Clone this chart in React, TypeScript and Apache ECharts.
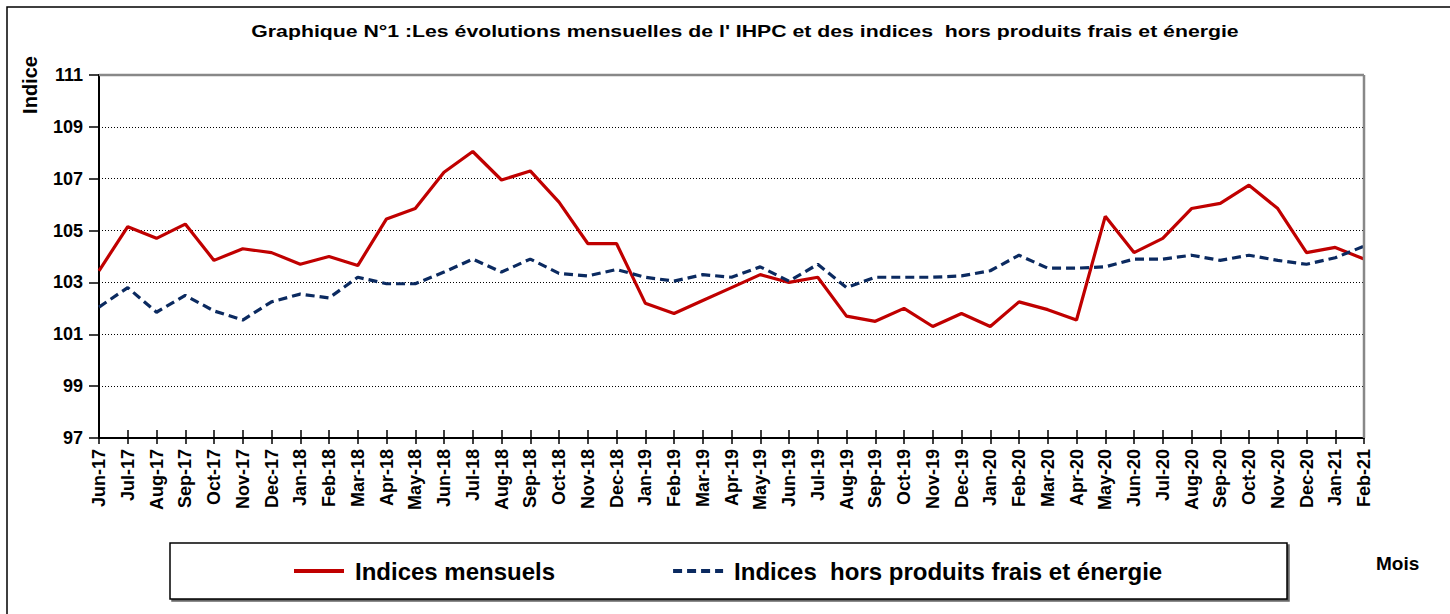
import React, { useEffect, useRef } from "react";
import * as echarts from "echarts";

const months = [
  "Jun-17", "Jul-17", "Aug-17", "Sep-17", "Oct-17", "Nov-17", "Dec-17",
  "Jan-18", "Feb-18", "Mar-18", "Apr-18", "May-18", "Jun-18", "Jul-18", "Aug-18", "Sep-18", "Oct-18", "Nov-18", "Dec-18",
  "Jan-19", "Feb-19", "Mar-19", "Apr-19", "May-19", "Jun-19", "Jul-19", "Aug-19", "Sep-19", "Oct-19", "Nov-19", "Dec-19",
  "Jan-20", "Feb-20", "Mar-20", "Apr-20", "May-20", "Jun-20", "Jul-20", "Aug-20", "Sep-20", "Oct-20", "Nov-20", "Dec-20",
  "Jan-21", "Feb-21",
];

const indicesMensuels = [
  103.45, 105.15, 104.7, 105.25, 103.85, 104.3, 104.15,
  103.7, 104.0, 103.65, 105.45, 105.85, 107.25, 108.05, 106.95, 107.3, 106.1, 104.5, 104.5,
  102.2, 101.8, 102.3, 102.8, 103.3, 103.0, 103.2, 101.7, 101.5, 102.0, 101.3, 101.8,
  101.3, 102.25, 101.95, 101.55, 105.55, 104.15, 104.7, 105.85, 106.05, 106.75, 105.85, 104.15,
  104.35, 103.9,
];

const indicesHorsPF = [
  102.05, 102.8, 101.85, 102.5, 101.9, 101.55, 102.25,
  102.55, 102.4, 103.2, 102.95, 102.95, 103.4, 103.9, 103.4, 103.9, 103.35, 103.25, 103.5,
  103.2, 103.05, 103.3, 103.2, 103.6, 103.05, 103.7, 102.8, 103.2, 103.2, 103.2, 103.25,
  103.45, 104.05, 103.55, 103.55, 103.6, 103.9, 103.9, 104.05, 103.85, 104.05, 103.85, 103.7,
  103.95, 104.4,
];

const seriesNames = ["Indices mensuels", "Indices  hors produits frais et énergie"];
const titleText =
  "Graphique N°1 :Les évolutions mensuelles de l' IHPC et des indices  hors produits frais et énergie";

const FONT = "'Liberation Sans', Arial, sans-serif";

export default function App() {
  const ref = useRef<HTMLDivElement>(null);
  useEffect(() => {
    if (!ref.current) return;
    const chart = echarts.init(ref.current, null, { renderer: "svg" });
    const gridLeft = 99;
    const gridTop = 75;
    const gridRight = 1364;
    const gridBottom = 438;
    chart.setOption({
      animation: false,
      backgroundColor: "#ffffff",
      textStyle: { fontFamily: FONT },
      grid: {
        left: gridLeft,
        top: gridTop,
        width: gridRight - gridLeft,
        height: gridBottom - gridTop,
        containLabel: false,
      },
      legend: {
        left: 287,
        top: 554,
        itemWidth: 50,
        itemHeight: 14,
        itemGap: 116,
        data: seriesNames,
        itemStyle: { opacity: 0 },
        lineStyle: { width: 4 },
        textStyle: {
          fontFamily: FONT,
          fontSize: 24,
          fontWeight: "bold",
          color: "#000",
          padding: [0, 0, 0, 6],
        },
      },
      xAxis: [
        {
          type: "category",
          data: months,
          boundaryGap: false,
          axisLine: { lineStyle: { color: "#000", width: 2 } },
          axisTick: { show: true, interval: 0, length: 6, lineStyle: { color: "#000", width: 1.5 } },
          axisLabel: {
            interval: 0,
            rotate: 90,
            margin: 11,
            fontFamily: FONT,
            fontSize: 18,
            fontWeight: "bold",
            color: "#000",
          },
        },
        {
          type: "category",
          data: months,
          boundaryGap: false,
          position: "bottom",
          axisLine: { show: false },
          axisTick: { show: true, inside: true, interval: 0, length: 8, lineStyle: { color: "#000", width: 1.5 } },
          axisLabel: { show: false },
        },
      ],
      yAxis: {
        type: "value",
        min: 97,
        max: 111,
        interval: 2,
        axisLine: { show: true, lineStyle: { color: "#000", width: 2 } },
        axisTick: { show: true, length: 10, lineStyle: { color: "#000", width: 1.5 } },
        axisLabel: {
          margin: 16,
          fontFamily: FONT,
          fontSize: 18,
          fontWeight: "bold",
          color: "#000",
        },
        splitLine: { show: true, lineStyle: { color: "#000", width: 1, type: [1, 2] } },
      },
      series: [
        {
          name: seriesNames[0],
          type: "line",
          data: indicesMensuels,
          symbol: "none",
          lineStyle: { color: "#c00000", width: 3.2 },
          itemStyle: { color: "#c00000" },
          z: 3,
        },
        {
          name: seriesNames[1],
          type: "line",
          data: indicesHorsPF,
          symbol: "none",
          lineStyle: { color: "#0b2a60", width: 3.2, type: [9, 5] },
          itemStyle: { color: "#0b2a60" },
          z: 4,
        },
      ],
      graphic: [
        {
          type: "rect",
          z: -10,
          shape: { x: 7, y: 7, width: 1460, height: 620 },
          style: { fill: "none", stroke: "#000", lineWidth: 1.5 },
          silent: true,
        },
        {
          type: "text",
          x: 745,
          y: 31,
          scaleX: 1.25,
          style: {
            text: titleText,
            fontFamily: FONT,
            fontSize: 17,
            fontWeight: "bold",
            fill: "#000",
            align: "center",
            verticalAlign: "middle",
          },
        },
        {
          type: "line",
          z: 10,
          shape: { x1: gridLeft, y1: gridTop, x2: gridRight, y2: gridTop },
          style: { stroke: "#888", lineWidth: 2.5 },
          silent: true,
        },
        {
          type: "line",
          z: 10,
          shape: { x1: gridRight, y1: gridTop, x2: gridRight, y2: gridBottom },
          style: { stroke: "#888", lineWidth: 2.5 },
          silent: true,
        },
        {
          type: "text",
          x: 30,
          y: 85,
          rotation: Math.PI / 2,
          style: {
            text: "Indice",
            fontFamily: FONT,
            fontSize: 20,
            fontWeight: "bold",
            fill: "#000",
            align: "center",
            verticalAlign: "middle",
          },
        },
        {
          type: "rect",
          z: -5,
          shape: { x: 170, y: 543, width: 1117, height: 56 },
          style: {
            fill: "#fff",
            stroke: "#000",
            lineWidth: 1.5,
            shadowColor: "rgba(0,0,0,0.6)",
            shadowOffsetX: 2,
            shadowOffsetY: 2,
            shadowBlur: 1,
          },
          silent: true,
        },
        {
          type: "text",
          x: 1376,
          y: 563,
          style: {
            text: "Mois",
            fontFamily: FONT,
            fontSize: 19,
            fontWeight: "bold",
            fill: "#000",
            align: "left",
            verticalAlign: "middle",
          },
        },
      ],
    });
    return () => chart.dispose();
  }, []);
  return (
    <div
      ref={ref}
      style={{ position: "absolute", left: 0, top: 0, width: 1450, height: 614 }}
    />
  );
}
